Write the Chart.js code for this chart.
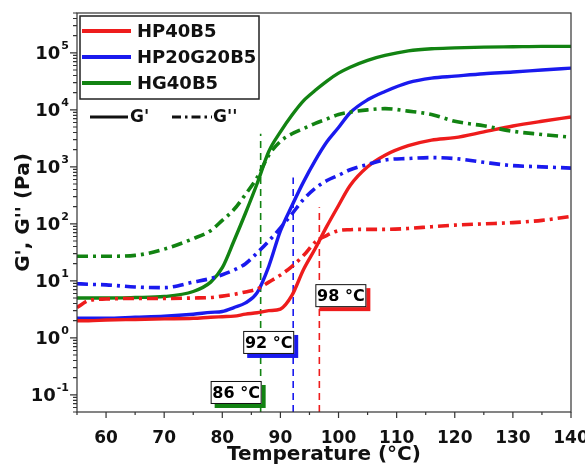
<!DOCTYPE html>
<html>
<head>
<meta charset="utf-8">
<script src="https://cdn.jsdelivr.net/npm/chart.js@4.4.1/dist/chart.umd.min.js"></script>
<style>
  html, body { margin: 0; padding: 0; background: #fff; }
  canvas { display: block; }
</style>
</head>
<body>
<canvas id="chart" width="585" height="465"></canvas>
<script>
// temperature (°C) and moduli (Pa)
const temps = [55, 57, 60, 65, 70, 75, 78, 80, 82, 84, 86, 88, 90, 92, 94, 96, 98, 100, 102, 105, 108, 112, 116, 120, 125, 130, 135, 140];

const hp40_Gp  = [2.0, 2.0, 2.05, 2.1, 2.15, 2.2, 2.3, 2.35, 2.4, 2.6, 2.75, 3.0, 3.2, 5.6, 16, 37, 91, 210, 470, 1000, 1600, 2350, 2950, 3250, 4100, 5200, 6300, 7500];
const hp40_Gpp = [3.4, 4.5, 4.8, 4.9, 4.9, 5.0, 5.1, 5.4, 5.8, 6.4, 7.2, 9.5, 12.6, 18, 28, 48, 63, 76, 79, 80, 80, 83, 89, 95, 100, 105, 115, 135];

const hp20_Gp  = [2.2, 2.2, 2.2, 2.3, 2.4, 2.6, 2.8, 2.9, 3.4, 4.1, 6.2, 18, 75, 210, 550, 1300, 2750, 4900, 8900, 15000, 21000, 30000, 36000, 39000, 43000, 46000, 50000, 54000];
const hp20_Gpp = [8.9, 8.7, 8.5, 7.8, 7.6, 9.5, 11, 12.8, 15.5, 20, 31, 50, 85, 150, 270, 420, 575, 710, 890, 1100, 1320, 1400, 1450, 1400, 1200, 1050, 1000, 950];

const hg40_Gp  = [5.0, 5.0, 5.0, 5.1, 5.3, 6.5, 9.5, 17, 50, 155, 510, 1860, 4100, 8100, 14500, 22000, 32000, 44000, 56000, 74000, 90000, 108000, 118000, 122000, 126000, 128000, 130000, 130000];
const hg40_Gpp = [27, 27, 27, 28, 36, 55, 76, 115, 178, 330, 650, 1600, 2800, 3800, 4700, 5800, 6900, 8300, 9100, 10000, 10500, 9500, 8300, 6300, 5250, 4200, 3700, 3300];

const seriesNames = ['HP40B5', 'HP20G20B5', 'HG40B5'];
const seriesColors = ['#ee1c1c', '#1a1aee', '#128312'];

const xTicks = [60, 70, 80, 90, 100, 110, 120, 130, 140];
const yDecades = [-1, 0, 1, 2, 3, 4, 5];

// gel points (vertical markers)
const gelTemps  = [86.6, 92.2, 96.7];
const gelTops   = [3800, 650, 195];
const gelLabels = ['86 °C', '92 °C', '98 °C'];
const gelLabelY = [0.11, 0.83, 5.5];

const FONT = "'DejaVu Sans', Arial, sans-serif";
const DASHDOT = [11, 5, 3, 5];

const zip = vals => temps.map((t, i) => ({ x: t, y: vals[i] }));

function curve(vals, color, dashed) {
  return {
    data: zip(vals),
    borderColor: color,
    borderWidth: dashed ? 3.6 : 3.4,
    borderDash: dashed ? DASHDOT : [],
    pointRadius: 0,
    cubicInterpolationMode: 'monotone',
    fill: false
  };
}

function marker(i) {
  return {
    data: [{ x: gelTemps[i], y: 0.05 }, { x: gelTemps[i], y: gelTops[i] }],
    borderColor: seriesColors[2 - i],
    borderWidth: 1.6,
    borderDash: [7, 5],
    pointRadius: 0
  };
}

const datasets = [
  curve(hp40_Gpp, seriesColors[0], true),
  curve(hp20_Gpp, seriesColors[1], true),
  curve(hg40_Gpp, seriesColors[2], true),
  curve(hp40_Gp, seriesColors[0], false),
  curve(hp20_Gp, seriesColors[1], false),
  curve(hg40_Gp, seriesColors[2], false),
  marker(0), marker(1), marker(2)
];

const decorations = {
  id: 'decorations',
  afterDraw(chart) {
    const { ctx, chartArea: a, scales: { x, y } } = chart;
    ctx.save();

    // frame
    ctx.strokeStyle = '#333';
    ctx.lineWidth = 1.2;
    ctx.setLineDash([]);
    ctx.strokeRect(a.left, a.top, a.right - a.left, a.bottom - a.top);

    // x ticks
    ctx.beginPath();
    for (let t = 55; t <= 140; t += 5) {
      const px = x.getPixelForValue(t);
      ctx.moveTo(px, a.bottom);
      ctx.lineTo(px, a.bottom + (t % 10 === 0 ? 6 : 3));
    }
    // y ticks
    for (let d = -2; d <= 5; d++) {
      for (let m = 1; m <= 9; m++) {
        const v = m * Math.pow(10, d);
        if (v < y.min || v > y.max) continue;
        const py = y.getPixelForValue(v);
        ctx.moveTo(a.left, py);
        ctx.lineTo(a.left - (m === 1 ? 7 : 4), py);
      }
    }
    ctx.stroke();

    // y tick labels 10^n
    ctx.fillStyle = '#111';
    ctx.textBaseline = 'middle';
    ctx.textAlign = 'right';
    yDecades.forEach(n => {
      const py = y.getPixelForValue(Math.pow(10, n));
      ctx.font = 'bold 11px ' + FONT;
      const exp = String(n);
      const ew = ctx.measureText(exp).width;
      ctx.fillText(exp, a.left - 8, py - 7);
      ctx.font = 'bold 18px ' + FONT;
      ctx.fillText('10', a.left - 9 - ew, py + 1);
    });

    // legend box
    const lx = a.left + 3, ly = a.top + 3;
    ctx.fillStyle = '#fff';
    ctx.fillRect(lx, ly, 179, 83);
    ctx.strokeStyle = '#222';
    ctx.lineWidth = 1.5;
    ctx.strokeRect(lx, ly, 179, 83);
    ctx.font = 'bold 18px ' + FONT;
    ctx.textAlign = 'left';
    seriesNames.forEach((name, i) => {
      const yy = ly + 15 + i * 26;
      ctx.strokeStyle = seriesColors[i];
      ctx.lineWidth = 4;
      ctx.beginPath();
      ctx.moveTo(lx + 2, yy);
      ctx.lineTo(lx + 51, yy);
      ctx.stroke();
      ctx.fillStyle = '#111';
      ctx.fillText(name, lx + 57, yy + 1);
    });

    // G' / G'' style key
    const ky = ly + 101;
    ctx.strokeStyle = '#111';
    ctx.lineWidth = 3;
    ctx.beginPath();
    ctx.moveTo(a.left + 13, ky);
    ctx.lineTo(a.left + 51, ky);
    ctx.stroke();
    ctx.setLineDash([9, 4, 2.5, 4]);
    ctx.beginPath();
    ctx.moveTo(a.left + 95, ky);
    ctx.lineTo(a.left + 135, ky);
    ctx.stroke();
    ctx.setLineDash([]);
    ctx.font = 'bold 17px ' + FONT;
    ctx.fillStyle = '#111';
    ctx.fillText("G'", a.left + 53, ky + 1);
    ctx.fillText("G''", a.left + 136, ky + 1);

    // gel temperature labels
    ctx.font = 'bold 16px ' + FONT;
    gelLabels.forEach((txt, i) => {
      const px = x.getPixelForValue(gelTemps[i]);
      const cy = y.getPixelForValue(gelLabelY[i]);
      const w = 51, h = 23;
      const bx = i === 2 ? px - 4 : px - w + 1;
      const by = cy - h / 2;
      ctx.fillStyle = seriesColors[2 - i];
      ctx.fillRect(bx + 4, by + 4, w, h);
      ctx.fillStyle = '#fff';
      ctx.fillRect(bx, by, w, h);
      ctx.strokeStyle = '#111';
      ctx.lineWidth = 1;
      ctx.strokeRect(bx + 0.5, by + 0.5, w - 1, h - 1);
      ctx.fillStyle = '#000';
      ctx.textAlign = 'center';
      ctx.fillText(txt, bx + w / 2, cy + 1);
      ctx.textAlign = 'left';
    });

    ctx.restore();
  }
};

new Chart(document.getElementById('chart'), {
  type: 'line',
  data: { datasets },
  options: {
    responsive: false,
    animation: false,
    devicePixelRatio: 1,
    layout: { padding: { left: 0, right: 14, top: 13, bottom: 0 } },
    plugins: { legend: { display: false }, tooltip: { enabled: false } },
    scales: {
      x: {
        type: 'linear',
        min: 55,
        max: 140,
        afterBuildTicks: s => { s.ticks = xTicks.map(v => ({ value: v })); },
        afterFit: s => { s.height = 53; s.paddingLeft = 0; s.paddingRight = 0; },
        grid: { display: false },
        border: { display: false },
        ticks: {
          autoSkip: false,
          maxRotation: 0,
          padding: 8,
          color: '#111',
          font: { family: FONT, weight: 'bold', size: 17 }
        },
        title: {
          display: true,
          text: 'Temperature (°C)',
          color: '#111',
          font: { family: FONT, weight: 'bold', size: 20, lineHeight: 1 },
          padding: { top: 0, bottom: 0 }
        }
      },
      y: {
        type: 'logarithmic',
        min: 0.05,
        max: 5e5,
        afterFit: s => { s.width = 77; },
        grid: { display: false },
        border: { display: false },
        ticks: { display: false },
        title: {
          display: true,
          text: "G', G'' (Pa)",
          color: '#111',
          font: { family: FONT, weight: 'bold', size: 20, lineHeight: 1 },
          padding: { top: 14, bottom: 0 }
        }
      }
    }
  },
  plugins: [decorations]
});
</script>
</body>
</html>
